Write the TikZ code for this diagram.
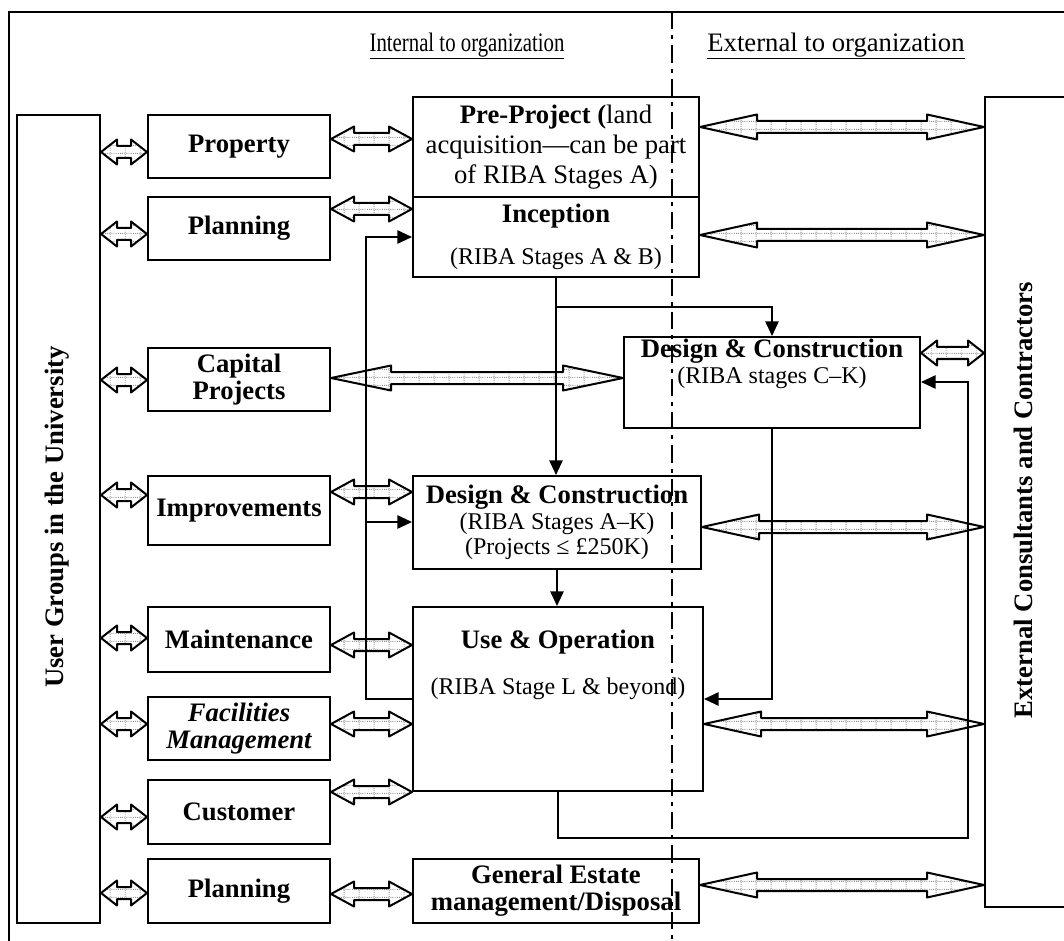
\documentclass[tikz,border=0pt]{standalone}
\usepackage{fontspec}
\setmainfont{Liberation Serif}
\usetikzlibrary{
    arrows.meta,
    calc,
    patterns.meta
}
\newcommand{\bigf}{\fontsize{20}{20.5}\selectfont}
\newcommand{\smallf}{\fontsize{18}{19}\selectfont}
\tikzdeclarepattern{
    name=dotgrid,
    type=uncolored,
    bounding box={(0pt,0pt) and (11pt,6pt)},
    tile size={(11pt,6pt)},
    code={
        \draw[line width=0.7pt, dash pattern=on 0.7pt off 0.9pt] (0pt,3pt) -- (11pt,3pt);
        \draw[line width=0.7pt, dash pattern=on 0.7pt off 0.9pt] (5.5pt,0pt) -- (5.5pt,6pt);
    }
}
\tikzset{box/.style={draw, line width=1.5pt, inner sep=0pt, align=center, font=\bigf\bfseries}}
\tikzset{sz/.style 2 args={minimum width=#1*0.75pt, minimum height=#2*0.75pt}}
\tikzset{blkarrow/.style={draw, line width=1.5pt, line join=round, preaction={fill=white}, pattern=dotgrid, pattern color=gray!85}}
\tikzset{flow/.style={line width=1.3pt, -{Triangle[length=11pt, width=10pt]}}}
\newcommand{\dblarrow}[4]{%
    \path (#1 |- 0,#3) coordinate (p) (#2 |- 0,#3) coordinate (q);
    \draw[blkarrow] (p) -- ++(#4,12.5) -- ++(0,-6.5) -- ($(q)+(-#4,6)$) -- ++(0,6.5) -- (q)
        -- ++(-#4,-12.5) -- ++(0,6.5) -- ($(p)+(#4,-6)$) -- ++(0,-6.5) -- cycle;}

\begin{document}
\begin{tikzpicture}[x=0.75pt, y=-0.75pt]
    \useasboundingbox (0,0) rectangle (1064,941);
    \clip (0,0) rectangle (1064,941);

    % headings
    \node[font=\bigf] (inthdr) at (467,46) {\scalebox{0.78}[1]{\underline{Internal to organization}}};
    \node[font=\bigf] (exthdr) at (836,46) {\underline{External to organization}};

    % side boxes
    \node[box, sz={83}{808}] (ug) at (58.5,519) {};
    \node[box, sz={105}{810}] (ext) at (1037.5,502) {};
    \node[rotate=90, font=\bigf\bfseries] (ugtxt) at (57,517) {User Groups in the University};
    \node[rotate=90, font=\bigf\bfseries] (exttxt) at (1023,500) {External Consultants and Contractors};

    % internal groups
    \node[box, sz={182}{63}] (prop) at (239,146.5) {Property};
    \node[box, sz={182}{63}] (plana) at (239,228.5) {Planning};
    \node[box, sz={182}{63}] (cap) at (239,379.5) {Capital\\Projects};
    \node[box, sz={182}{69}] (impr) at (239,510.5) {Improvements};
    \node[box, sz={182}{65}] (maint) at (239,639.5) {Maintenance};
    \node[box, sz={182}{63}] (fac) at (239,728.5) {\itshape Facilities\\\itshape Management};
    \node[box, sz={182}{64}] (cust) at (239,812) {Customer};
    \node[box, sz={182}{64}] (planb) at (239,891) {Planning};

    % stages
    \node[box, sz={286}{100}] (pre) at (556,147) {Pre-Project ({\mdseries land}\\[2pt]{\mdseries acquisition---can be part}\\[2pt]{\mdseries of RIBA Stages A)}};
    \node[box, sz={286}{80}] (incep) at (556,237) {Inception\\[11.5pt]{\smallf\mdseries (RIBA Stages A \& B)}};
    \node[box, sz={296}{91}] (dcr) at (772,382.5) {};
    \node[font=\bigf\bfseries, align=center] (dcrtxt) at (772,364) {Design \& Construction\\[-1pt]{\smallf\mdseries (RIBA stages C--K)}};
    \node[box, sz={288}{93}] (dcm) at (557,522.5) {Design \& Construction\\[-1.5pt]{\smallf\mdseries (RIBA Stages A--K)}\\[-1.5pt]{\smallf\mdseries (Projects ≤ £250K)}};
    \node[box, sz={290}{184}] (useop) at (558,699) {};
    \node[font=\bigf\bfseries, align=center] (useoptxt) at (558,665) {Use \& Operation\\[14pt]{\smallf\mdseries (RIBA Stage L \& beyond)}};
    \node[box, sz={286}{64}] (gen) at (556,891) {General Estate\\management/Disposal};

    % block arrows
    \dblarrow{ug.east}{prop.west}{152}{16}
    \dblarrow{ug.east}{plana.west}{234}{16}
    \dblarrow{ug.east}{cap.west}{380}{16}
    \dblarrow{ug.east}{impr.west}{495}{16}
    \dblarrow{ug.east}{maint.west}{638}{16}
    \dblarrow{ug.east}{fac.west}{724}{16}
    \dblarrow{ug.east}{cust.west}{817}{16}
    \dblarrow{ug.east}{planb.west}{893}{16}

    \dblarrow{prop.east}{pre.west}{139}{23}
    \dblarrow{plana.east}{incep.west}{209}{23}
    \dblarrow{cap.east}{dcr.west}{378}{60}
    \dblarrow{impr.east}{dcm.west}{492}{23}
    \dblarrow{maint.east}{useop.west}{645}{23}
    \dblarrow{fac.east}{useop.west}{724}{23}
    \dblarrow{cust.east}{useop.west}{792}{23}
    \dblarrow{planb.east}{gen.west}{894}{23}

    \dblarrow{pre.east}{ext.west}{127}{57}
    \dblarrow{incep.east}{ext.west}{235}{57}
    \dblarrow{dcr.east}{ext.west}{353}{16}
    \dblarrow{dcm.east}{ext.west}{527}{57}
    \dblarrow{useop.east}{ext.west}{724}{57}
    \dblarrow{gen.east}{ext.west}{885}{57}

    % flow between stages
    \coordinate (loopx) at (366,237);
    \coordinate (retx) at (968,838);
    \draw[flow] (incep.south) -- (incep.south |- dcm.north);
    \draw[flow] (incep.south |- 0,307) -| (dcr.north);
    \draw[flow] (dcm.south) -- (dcm.south |- useop.north);
    \draw[flow] (useop.west |- 0,699) -| (loopx) -- (incep.west |- loopx);
    \draw[flow] (loopx |- 0,522) -- (dcm.west |- 0,522);
    \draw[flow] (dcr.south) |- (useop.east |- 0,699);
    \draw[flow] (useop.south) |- (retx) |- (dcr.east |- 0,382);

    % boundary
    \draw[line width=2.2pt, dash pattern=on 13pt off 4.5pt on 3pt off 4.5pt] (672,12) -- (672,941);
    \draw[line width=1pt] (9,960) |- (1090,12);
\end{tikzpicture}
\end{document}
